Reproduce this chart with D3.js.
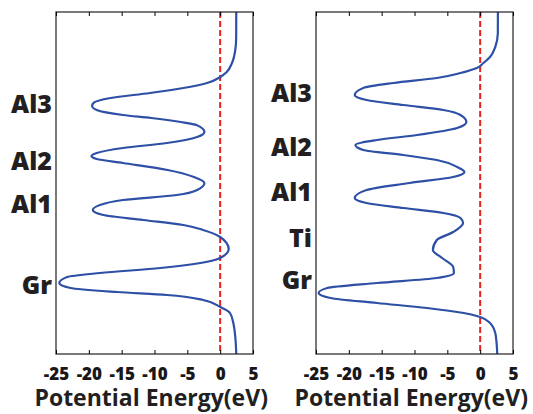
<!DOCTYPE html>
<html>
<head>
<meta charset="utf-8">
<script src="https://cdn.jsdelivr.net/npm/d3@7"></script>
<style>
  body { margin: 0; background: #fff; }
  svg text { font-family: "Open Sans", "DejaVu Sans", sans-serif; font-weight: bold; fill: #231f20; }
</style>
</head>
<body>
<div id="chart"></div>
<script>
// potential energy (eV) vs. depth position
const energyTicks = [-25, -20, -15, -10, -5, 0, 5];

const leftZ = [0, 2.5, 3.8, 5.1, 6.0, 6.5, 7.1, 7.6, 8.1, 8.6, 9.1, 9.4, 9.8, 10.3, 10.6, 11.0, 11.3, 12.0, 12.5, 13.1, 13.6, 14.1, 14.4, 14.7, 15.1, 15.8, 16.5, 17.1, 17.8, 18.3, 18.8, 19.3, 19.8, 20.3, 20.8, 21.3, 21.8, 22.5, 23.7, 24.6, 25.1, 25.6, 26.1, 26.5, 27.1, 27.6, 28.0, 28.3, 28.8, 29.5, 30.1, 31.1, 32.5, 34.2];
const leftE = [2.45, 2.44, 2.3, 1.8, 1.0, 0.0, -2.0, -5.6, -10.7, -16.7, -19.3, -19.5, -18.8, -14.8, -10.5, -6.0, -3.6, -2.4, -3.5, -8.1, -14.8, -18.8, -19.6, -18.8, -14.8, -8.0, -4.0, -2.4, -3.5, -6.6, -14.8, -18.3, -19.4, -17.8, -11.7, -5.6, -2.6, 0.0, 1.3, 0.0, -3.0, -9.1, -18.3, -23.3, -24.5, -22.8, -15.7, -8.1, -2.6, 0.0, 1.5, 2.0, 2.3, 2.45];

const rightZ = [0, 2.1, 3.5, 4.5, 5.1, 5.6, 6.1, 6.6, 7.1, 7.6, 8.3, 8.8, 9.3, 9.8, 10.3, 11.0, 11.6, 12.3, 12.8, 13.3, 13.8, 14.3, 14.8, 15.5, 16.0, 16.5, 17.1, 17.8, 18.6, 19.1, 19.6, 20.1, 20.6, 21.1, 22.0, 22.8, 23.8, 24.6, 25.5, 26.1, 26.6, 27.1, 27.6, 28.1, 28.6, 29.1, 29.6, 30.1, 30.5, 31.1, 32.1, 33.1, 34.2];
const rightE = [2.7, 2.69, 2.3, 1.5, 0.5, -0.5, -3.0, -6.6, -13.2, -17.8, -19.1, -17.3, -11.7, -5.6, -3.0, -2.1, -3.5, -9.6, -15.7, -19.0, -17.8, -11.7, -6.6, -3.5, -2.4, -4.1, -10.7, -17.3, -19.1, -17.3, -11.7, -5.6, -3.0, -2.6, -4.1, -6.6, -7.2, -5.8, -4.1, -4.0, -6.6, -15.7, -23.3, -24.6, -22.8, -15.7, -8.1, -2.5, 0.0, 1.5, 2.3, 2.5, 2.6];

const leftLayers = ['Al3', 'Al2', 'Al1', 'Gr'];
const leftLayerZ = [9.2, 14.9, 19.2, 27.3];
const rightLayers = ['Al3', 'Al2', 'Al1', 'Ti', 'Gr'];
const rightLayerZ = [8.1, 13.5, 18.0, 22.6, 26.8];

const width = 533;
const height = 414;

const svg = d3.select('#chart')
    .append('svg')
    .attr('width', width)
    .attr('height', height);

const y = d3.scaleLinear().domain([0, 34.2]).range([12, 354]);

function drawPanel(x0, zs, es, layers, layerZ) {
    const x = d3.scaleLinear().domain([-25, 5]).range([x0, x0 + 197]);
    const g = svg.append('g');

    // Fermi level
    g.append('line')
        .attr('x1', x(0)).attr('x2', x(0))
        .attr('y1', y.range()[0]).attr('y2', y.range()[1])
        .attr('stroke', '#e52421')
        .attr('stroke-width', 2)
        .attr('stroke-dasharray', '6,3');

    const line = d3.line()
        .x(d => x(d[1]))
        .y(d => y(d[0]))
        .curve(d3.curveMonotoneY);

    g.append('path')
        .datum(zs.map((z, i) => [z, es[i]]))
        .attr('d', line)
        .attr('fill', 'none')
        .attr('stroke', '#2d4fa5')
        .attr('stroke-width', 2.2);

    // box
    g.append('rect')
        .attr('x', x.range()[0]).attr('y', y.range()[0])
        .attr('width', x.range()[1] - x.range()[0])
        .attr('height', y.range()[1] - y.range()[0])
        .attr('fill', 'none')
        .attr('stroke', '#231f20')
        .attr('stroke-width', 1.2);

    const bottom = g.append('g')
        .attr('transform', `translate(0,${y.range()[1]})`)
        .call(d3.axisBottom(x).tickValues(energyTicks).tickSizeInner(-4).tickSizeOuter(0)
            .tickPadding(14).tickFormat(d => String(d)));
    bottom.select('.domain').remove();
    bottom.selectAll('text')
        .style('font-size', '17px')
        .style('font-weight', '800')
        .style('fill', '#1a1718');

    const top = g.append('g')
        .attr('transform', `translate(0,${y.range()[0]})`)
        .call(d3.axisTop(x).tickValues(energyTicks).tickSizeInner(-4).tickSizeOuter(0).tickFormat(''));
    top.select('.domain').remove();

    g.append('text')
        .attr('x', x(-10.5))
        .attr('y', 406)
        .attr('text-anchor', 'middle')
        .style('font-size', '23px')
        .text('Potential Energy(eV)');

    g.selectAll('.layer')
        .data(layers)
        .enter().append('text')
        .attr('class', 'layer')
        .attr('x', x0 - 4)
        .attr('y', (d, i) => y(layerZ[i]))
        .attr('dy', '0.36em')
        .attr('text-anchor', 'end')
        .style('font-size', '25px')
        .style('font-weight', '800')
        .text(d => d);
}

drawPanel(56, leftZ, leftE, leftLayers, leftLayerZ);
drawPanel(316, rightZ, rightE, rightLayers, rightLayerZ);
</script>
</body>
</html>
